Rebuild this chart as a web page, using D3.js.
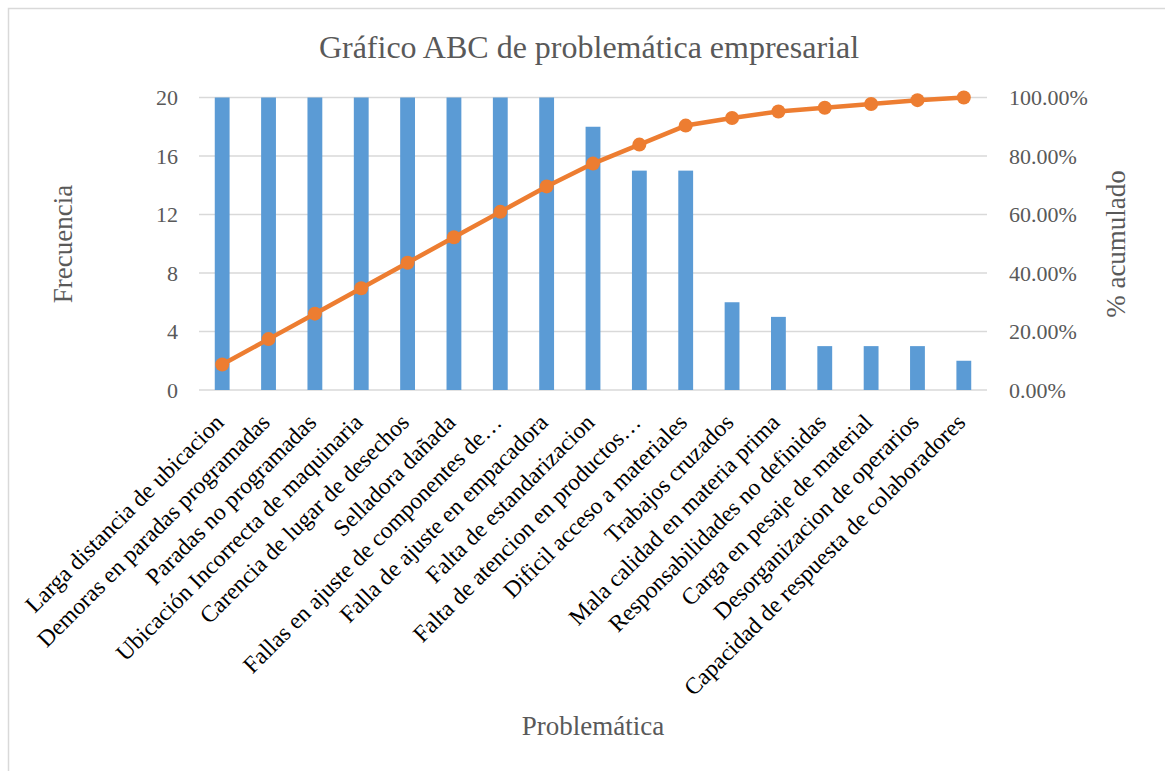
<!DOCTYPE html>
<html><head><meta charset="utf-8">
<script src="https://cdn.jsdelivr.net/npm/d3@7"></script>
<style>
body{margin:0;background:#fff;}
text{font-family:"Liberation Serif","Times New Roman",serif;}
</style></head>
<body>
<svg id="chart" width="1165" height="771"></svg>
<script>
const categories = [
  "Larga distancia de ubicacion",
  "Demoras en paradas programadas",
  "Paradas no programadas",
  "Ubicación Incorrecta de maquinaria",
  "Carencia de lugar de desechos",
  "Selladora dañada",
  "Fallas en ajuste de componentes de…",
  "Falla de ajuste en empacadora",
  "Falta de estandarizacion",
  "Falta de atencion en productos…",
  "Dificil acceso a materiales",
  "Trabajos cruzados",
  "Mala calidad en materia prima",
  "Responsabilidades no definidas",
  "Carga en pesaje de material",
  "Desorganizacion de operarios",
  "Capacidad de respuesta de colaboradores"
];
const frecuencia = [20,20,20,20,20,20,20,20,18,15,15,6,5,3,3,3,2];
const acumulado = [0.087,0.174,0.261,0.348,0.435,0.522,0.609,0.696,0.774,0.839,0.904,0.930,0.952,0.965,0.978,0.991,1.000];
const leftTicks = [0,4,8,12,16,20];
const rightTicks = [0,0.2,0.4,0.6,0.8,1.0];

const svg = d3.select("#chart");
const m = {left:199, right:987, top:97.5, bottom:390};

svg.append("rect").attr("x",8.5).attr("y",8.5).attr("width",1200).attr("height",800)
  .attr("fill","#fff").attr("stroke","#d9d9d9").attr("stroke-width",1.5);

const x = d3.scaleBand().domain(categories).range([m.left, m.right]).paddingInner(0.68).paddingOuter(0.34);
const y = d3.scaleLinear().domain([0,20]).range([m.bottom, m.top]);
const y2 = d3.scaleLinear().domain([0,1]).range([m.bottom, m.top]);

// gridlines
svg.append("g").selectAll("line").data(leftTicks).join("line")
  .attr("x1",m.left).attr("x2",m.right)
  .attr("y1",d=>y(d)).attr("y2",d=>y(d))
  .attr("stroke","#d9d9d9").attr("stroke-width",1.5);

// left axis
const gl = svg.append("g").attr("transform",`translate(${m.left},0)`)
  .call(d3.axisLeft(y).tickValues(leftTicks).tickSize(0).tickPadding(21));
gl.select(".domain").remove();
gl.selectAll("text").attr("font-size",22).attr("fill","#595959").attr("font-family","Liberation Serif");

// right axis
const gr = svg.append("g").attr("transform",`translate(${m.right},0)`)
  .call(d3.axisRight(y2).tickValues(rightTicks).tickSize(0).tickPadding(22).tickFormat(d3.format(".2%")));
gr.select(".domain").remove();
gr.selectAll("text").attr("font-size",22).attr("fill","#595959").attr("font-family","Liberation Serif");

// bars
svg.append("g").selectAll("rect").data(categories).join("rect")
  .attr("x",d=>x(d)).attr("width",x.bandwidth())
  .attr("y",(d,i)=>y(frecuencia[i])).attr("height",(d,i)=>y(0)-y(frecuencia[i]))
  .attr("fill","#5b9bd5");

// line
const cx = d => x(d) + x.bandwidth()/2;
svg.append("path").datum(categories)
  .attr("fill","none").attr("stroke","#ed7d31").attr("stroke-width",4.5).attr("stroke-linejoin","round")
  .attr("d", d3.line().x(d=>cx(d)).y((d,i)=>y2(acumulado[i])));
svg.append("g").selectAll("circle").data(categories).join("circle")
  .attr("cx",d=>cx(d)).attr("cy",(d,i)=>y2(acumulado[i])).attr("r",7)
  .attr("fill","#ed7d31");

// category labels
svg.append("g").selectAll("text").data(categories).join("text")
  .attr("transform",d=>`translate(${cx(d)-3},${m.bottom+28}) rotate(-45)`)
  .attr("text-anchor","end").attr("dy","0.35em")
  .attr("font-size",23.5).attr("fill","#000")
  .text(d=>d);

// title
svg.append("text").attr("x",589).attr("y",58).attr("text-anchor","middle")
  .attr("font-size",32).attr("fill","#595959").text("Gráfico ABC de problemática empresarial");

// axis titles
svg.append("text").attr("transform","translate(72,244) rotate(-90)").attr("text-anchor","middle")
  .attr("font-size",27).attr("fill","#595959").text("Frecuencia");
svg.append("text").attr("transform","translate(1125,244) rotate(-90)").attr("text-anchor","middle")
  .attr("font-size",27).attr("fill","#595959").text("% acumulado");
svg.append("text").attr("x",593).attr("y",735).attr("text-anchor","middle")
  .attr("font-size",27).attr("fill","#595959").text("Problemática");
</script>
</body></html>
